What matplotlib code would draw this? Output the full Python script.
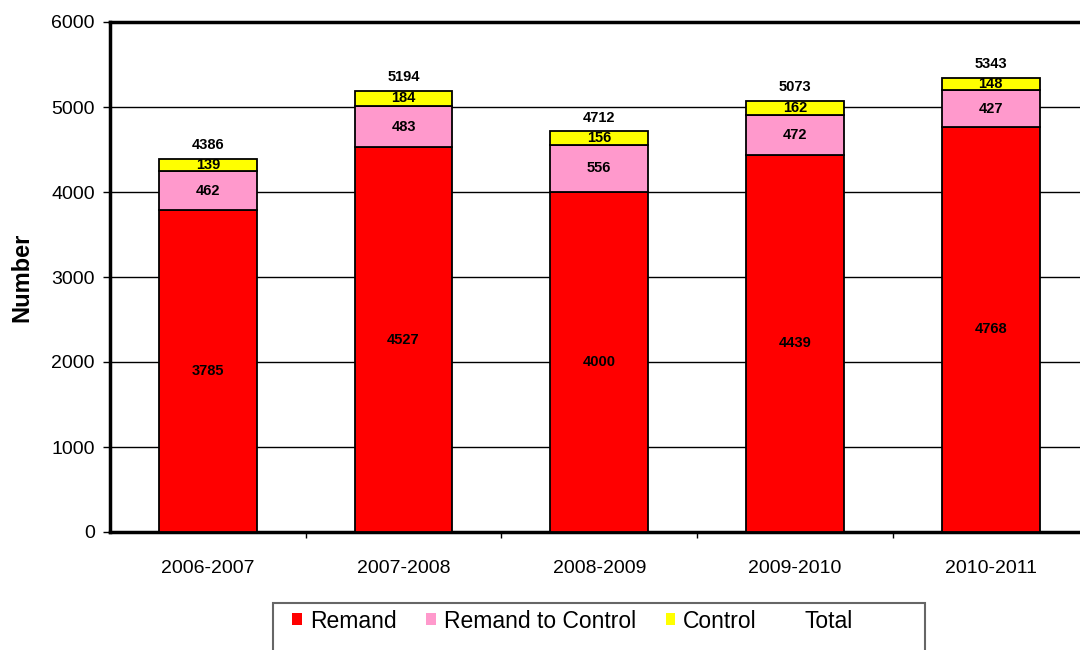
import numpy as np
import matplotlib.pyplot as plt
from matplotlib.patches import Patch, Rectangle

plt.rcParams['font.family'] = ['Liberation Sans', 'DejaVu Sans']

# Data
years = ['2006-2007', '2007-2008', '2008-2009', '2009-2010', '2010-2011']
remand = [3785, 4527, 4000, 4439, 4768]
remand_to_control = [462, 483, 556, 472, 427]
control = [139, 184, 156, 162, 148]
total = [4386, 5194, 4712, 5073, 5343]

red = '#FF0000'
pink = '#FF99CC'
yellow = '#FFFF00'

fig = plt.figure(figsize=(10.8, 6.5), dpi=100)
# axes runs slightly past the right edge, like the reference
ax = fig.add_axes([110 / 1080, 118 / 650, 978.5 / 1080, 510 / 650])

x = np.arange(len(years))
r = np.array(remand)
p = np.array(remand_to_control)
c = np.array(control)

w = 0.5
ax.bar(x, r, w, color=red, edgecolor='black', linewidth=1.3, zorder=3)
ax.bar(x, p, w, bottom=r, color=pink, edgecolor='black', linewidth=1.3, zorder=3)
ax.bar(x, c, w, bottom=r + p, color=yellow, edgecolor='black', linewidth=1.3, zorder=3)

# segment labels
for i in range(len(years)):
    ax.text(x[i], r[i] / 2, str(remand[i]), ha='center', va='center',
            fontsize=10.5, fontweight='bold', zorder=4)
    ax.text(x[i], r[i] + p[i] / 2, str(remand_to_control[i]), ha='center', va='center',
            fontsize=10.5, fontweight='bold', zorder=4)
    ax.text(x[i], r[i] + p[i] + c[i] / 2, str(control[i]), ha='center', va='center',
            fontsize=10.5, fontweight='bold', zorder=4)
    ax.annotate(str(total[i]), (x[i], total[i]), xytext=(0, 5), textcoords='offset points',
                ha='center', va='bottom', fontsize=10.5, fontweight='bold', zorder=4)

ax.set_xlim(-0.5, 4.5)
ax.set_ylim(0, 6000)
ax.set_yticks(np.arange(0, 7000, 1000))
ax.yaxis.grid(True, color='black', linewidth=1.0, zorder=0)
ax.set_axisbelow(True)

ax.set_xticks(x)
ax.set_xticklabels(years, fontsize=14)
ax.set_xticks(np.arange(0.5, 4.5, 1), minor=True)
ax.tick_params(axis='x', which='major', length=0, pad=20)
ax.tick_params(axis='x', which='minor', length=4, width=1, direction='out')
ax.tick_params(axis='y', labelsize=14, length=5, width=1, direction='out', pad=6)

for s in ['left', 'top', 'bottom', 'right']:
    ax.spines[s].set_linewidth(2.5)

ax.set_ylabel('Number', fontsize=17, fontweight='bold', labelpad=13)

# legend
handles = [Patch(facecolor=red, edgecolor='none'),
           Patch(facecolor=pink, edgecolor='none'),
           Patch(facecolor=yellow, edgecolor='none'),
           Patch(facecolor='none', edgecolor='none')]
labels = ['Remand', 'Remand to Control', 'Control', 'Total']
fig.legend(handles, labels, loc='center left', bbox_to_anchor=(292 / 1080, 1 - 621 / 650),
           ncol=4, frameon=False, fontsize=16.5, handlelength=0.42, handleheight=0.42,
           handletextpad=0.35, columnspacing=1.3, borderaxespad=0, borderpad=0)
fig.patches.append(Rectangle((273 / 1080, 1 - 665 / 650), 652 / 1080, 62 / 650,
                             transform=fig.transFigure, facecolor='none',
                             edgecolor='#666666', linewidth=1.5))

fig.savefig('out.png', dpi=100)
